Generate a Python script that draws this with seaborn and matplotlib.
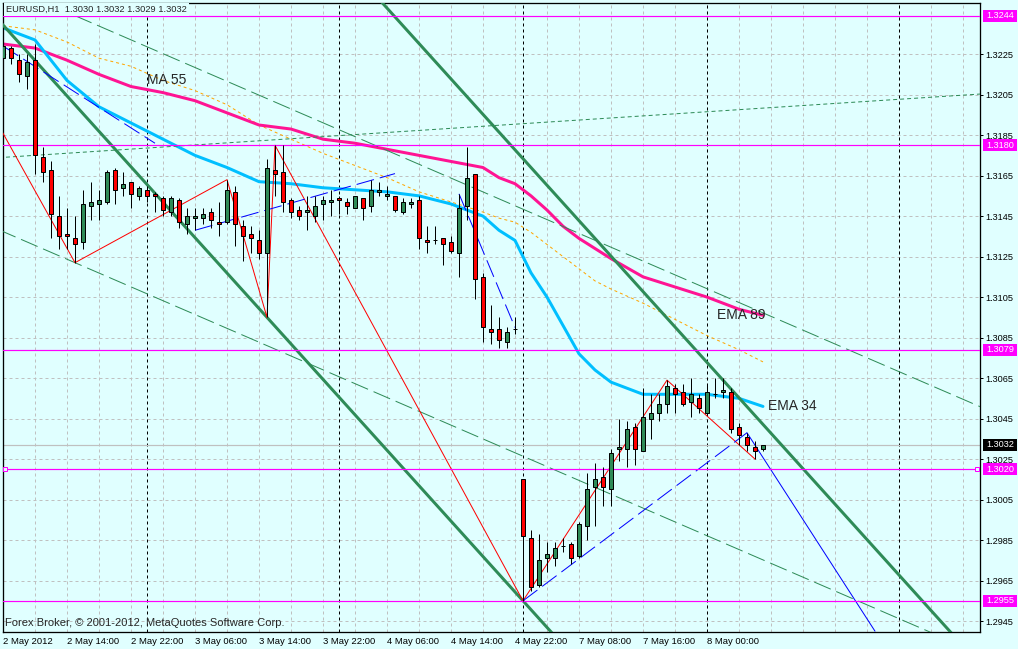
import numpy as np
import pandas as pd
import matplotlib
matplotlib.use("Agg")
import matplotlib.pyplot as plt
from matplotlib.patches import Rectangle
from matplotlib.transforms import blended_transform_factory
import seaborn as sns

# EURUSD H1 candles, bar 0 = 2 May 2012 06:00
opens = [1.3223, 1.3228, 1.3222, 1.3214, 1.3222, 1.3174, 1.3168, 1.3145, 1.3136, 1.3134,
         1.3132, 1.3150, 1.3151, 1.3152, 1.3168, 1.3159, 1.3162, 1.3155, 1.3158, 1.3156,
         1.3154, 1.3147, 1.3153, 1.3141, 1.3144, 1.3144, 1.3147, 1.3142, 1.3142, 1.3157,
         1.3140, 1.3136, 1.3133, 1.3127, 1.3168, 1.3167, 1.3153, 1.3148, 1.3147, 1.3145,
         1.3151, 1.3152, 1.3154, 1.3152, 1.3149, 1.3154, 1.3150, 1.3157, 1.3155, 1.3155,
         1.3147, 1.3151, 1.3153, 1.3133, 1.3133, 1.3134, 1.3132, 1.3127, 1.3150, 1.3166,
         1.3115, 1.3089, 1.3089, 1.3083, 1.3089, 1.3015, 1.2986, 1.2963, 1.2976, 1.2976,
         1.2982, 1.2983, 1.2977, 1.2992, 1.3011, 1.3016, 1.3010, 1.3030, 1.3030, 1.3041,
         1.3029, 1.3045, 1.3048, 1.3052, 1.3060, 1.3058, 1.3053, 1.3055, 1.3048, 1.3057,
         1.3058, 1.3058, 1.3041, 1.3036, 1.3031, 1.3030]
highs = [1.3233, 1.3229, 1.3225, 1.3225, 1.3230, 1.3179, 1.3172, 1.3155, 1.3149, 1.3145,
         1.3158, 1.3162, 1.3158, 1.3168, 1.3169, 1.3167, 1.3162, 1.3160, 1.3160, 1.3157,
         1.3155, 1.3155, 1.3154, 1.3149, 1.3149, 1.3149, 1.3149, 1.3152, 1.3163, 1.3160,
         1.3143, 1.3140, 1.3138, 1.3173, 1.3180, 1.3180, 1.3154, 1.3150, 1.3155, 1.3155,
         1.3155, 1.3158, 1.3155, 1.3154, 1.3155, 1.3154, 1.3163, 1.3162, 1.3160, 1.3155,
         1.3154, 1.3154, 1.3155, 1.3140, 1.3140, 1.3134, 1.3135, 1.3156, 1.3179, 1.3166,
         1.3117, 1.3101, 1.3095, 1.3090, 1.3095, 1.3015, 1.2990, 1.2988, 1.2984, 1.2984,
         1.2986, 1.2984, 1.2994, 1.3018, 1.3023, 1.3021, 1.3030, 1.3045, 1.3044, 1.3043,
         1.3060, 1.3057, 1.3057, 1.3064, 1.3062, 1.3062, 1.3065, 1.3057, 1.3062, 1.3065,
         1.3065, 1.3060, 1.3043, 1.3038, 1.3034, 1.3032]
lows = [1.3218, 1.3220, 1.3211, 1.3208, 1.3166, 1.3162, 1.3134, 1.3129, 1.3129, 1.3122,
        1.3129, 1.3143, 1.3143, 1.3151, 1.3151, 1.3155, 1.3149, 1.3153, 1.3152, 1.3147,
        1.3145, 1.3145, 1.3139, 1.3136, 1.3138, 1.3141, 1.3139, 1.3135, 1.3141, 1.3130,
        1.3123, 1.3127, 1.3124, 1.3095, 1.3155, 1.3147, 1.3144, 1.3143, 1.3138, 1.3142,
        1.3143, 1.3145, 1.3146, 1.3146, 1.3149, 1.3143, 1.3147, 1.3155, 1.3153, 1.3147,
        1.3146, 1.3149, 1.3129, 1.3127, 1.3131, 1.3121, 1.3127, 1.3115, 1.3143, 1.3104,
        1.3083, 1.3082, 1.3080, 1.3080, 1.3087, 1.2955, 1.2960, 1.2962, 1.2969, 1.2972,
        1.2979, 1.2973, 1.2976, 1.2985, 1.2992, 1.3002, 1.3002, 1.3024, 1.3021, 1.3022,
        1.3029, 1.3035, 1.3044, 1.3048, 1.3048, 1.3051, 1.3046, 1.3048, 1.3048, 1.3055,
        1.3055, 1.3038, 1.3032, 1.3029, 1.3025, 1.3029]
closes = [1.3229, 1.3223, 1.3215, 1.3221, 1.3175, 1.3167, 1.3146, 1.3135, 1.3135, 1.3131,
          1.3151, 1.3152, 1.3153, 1.3167, 1.3158, 1.3161, 1.3156, 1.3159, 1.3155, 1.3155,
          1.3148, 1.3154, 1.3142, 1.3145, 1.3145, 1.3146, 1.3143, 1.3141, 1.3158, 1.3141,
          1.3135, 1.3134, 1.3127, 1.3169, 1.3166, 1.3152, 1.3147, 1.3145, 1.3148, 1.3150,
          1.3153, 1.3153, 1.3153, 1.3150, 1.3155, 1.3149, 1.3158, 1.3158, 1.3156, 1.3148,
          1.3152, 1.3152, 1.3134, 1.3132, 1.3133, 1.3131, 1.3128, 1.3149, 1.3164, 1.3114,
          1.3090, 1.3088, 1.3084, 1.3088, 1.3089, 1.2987, 1.2962, 1.2975, 1.2978, 1.2981,
          1.2982, 1.2976, 1.2993, 1.3010, 1.3015, 1.3011, 1.3028, 1.3031, 1.3040, 1.3030,
          1.3046, 1.3048, 1.3052, 1.3061, 1.3057, 1.3052, 1.3057, 1.3050, 1.3058, 1.3057,
          1.3059, 1.3040, 1.3037, 1.3032, 1.3029, 1.3032]

# moving averages, read at these bars
ma_bars = [0, 4, 8, 12, 16, 20, 24, 28, 32, 36, 40, 44, 48, 52, 56, 60, 62, 64, 66, 68,
           70, 72, 74, 76, 80, 84, 88, 92, 95]
ema34 = [1.3238, 1.3232, 1.3212, 1.3199, 1.3191, 1.3183, 1.3175, 1.3169, 1.3162, 1.3161,
         1.3159, 1.3158, 1.3157, 1.3155, 1.3151, 1.3145, 1.3138, 1.3133, 1.3117, 1.3105,
         1.3091, 1.3077, 1.3069, 1.3063, 1.3057, 1.3057, 1.3057, 1.3055, 1.3051]
ema89 = [1.3230, 1.3228, 1.3222, 1.3215, 1.3209, 1.3206, 1.3202, 1.3196, 1.3190, 1.3188,
         1.3183, 1.3181, 1.3178, 1.3175, 1.3172, 1.3169, 1.3164, 1.3161, 1.3155, 1.3148,
         1.3140, 1.3134, 1.3129, 1.3124, 1.3115, 1.3110, 1.3105, 1.3099, 1.3096]
ma55 = [1.3239, 1.3237, 1.3231, 1.3223, 1.3219, 1.3212, 1.3207, 1.3200, 1.3190, 1.3183,
        1.3176, 1.3170, 1.3164, 1.3157, 1.3152, 1.3147, 1.3144, 1.3142, 1.3137, 1.3131,
        1.3125, 1.3119, 1.3113, 1.3109, 1.3102, 1.3094, 1.3086, 1.3079, 1.3073]

# drawn objects (bar, price)
channel_low = [(33, 1.3095), (65, 1.2955)]
channel_high_anchor = (90, 1.3064)
dash_low = [(9, 1.3122), (67, 1.3023)]
dash_high_start = (9, 1.3244)
dot_rising = [(0, 1.3174), (121, 1.3205)]
zz_bars = [-1, 9, 28, 33, 34, 65, 83, 94]
zz_prices = [1.3193, 1.3122, 1.3163, 1.3095, 1.3180, 1.2955, 1.3064, 1.3025]
blue_dashed = [[(0, 1.3229), (19, 1.3181)],
               [(24, 1.3138), (49, 1.3166)],
               [(57, 1.3156), (64, 1.3090)],
               [(65, 1.2955), (93, 1.3038)]]
blue_ray = [(93, 1.3038), (109, 1.2940)]
hlevels = [1.3244, 1.3180, 1.3079, 1.3020, 1.2955]
bid = 1.3032
level_marks = [0.25, 121.75]

sep_bars = [18, 42, 65, 88, 112]
price_ticks = [1.2945, 1.2965, 1.2985, 1.3005, 1.3025, 1.3045, 1.3065, 1.3085,
               1.3105, 1.3125, 1.3145, 1.3165, 1.3185, 1.3205, 1.3225]
tick_bars = [0, 8, 16, 24, 32, 40, 48, 56, 64, 72, 80, 88]
tick_labels = ['2 May 2012', '2 May 14:00', '2 May 22:00', '3 May 06:00', '3 May 14:00',
               '3 May 22:00', '4 May 06:00', '4 May 14:00', '4 May 22:00', '7 May 08:00',
               '7 May 16:00', '8 May 00:00']

sns.set_style('white')
plt.rcParams['font.family'] = ['Liberation Sans', 'DejaVu Sans']
plt.rcParams['lines.scale_dashes'] = False

BG = '#E0FFFF'
GREEN = '#2E8B57'
MAG = '#FF00FF'
PX = 0.72  # points per pixel at 100 dpi
W, H = 1018, 649
YSCALE = 20250.0  # pixels per price unit

fig = plt.figure(figsize=(W / 100, H / 100), dpi=100, facecolor=BG)
ax = fig.add_axes([2.5 / W, 17 / H, 977.5 / W, 629.5 / H])
ax.set_facecolor(BG)

# grid and day separators
for b in range(0, 124, 4):
    ax.axvline(b, color='#C0C0C0', lw=PX, ls=(0, (3 * PX, 3 * PX)), zorder=0.5)
for p in price_ticks:
    ax.axhline(p, color='#C0C0C0', lw=PX, ls=(0, (3 * PX, 3 * PX)), zorder=0.5)
for b in sep_bars:
    ax.axvline(b, color='black', lw=PX, ls=(0, (3 * PX, 3 * PX)), zorder=0.6)

# moving averages
ma = pd.DataFrame({'bar': ma_bars, 'ema34': ema34, 'ema89': ema89, 'ma55': ma55})
sns.lineplot(data=ma, x='bar', y='ma55', color='#FFA500', lw=PX, estimator=None,
             linestyle=(0, (3 * PX, 3 * PX)), ax=ax, zorder=2)
sns.lineplot(data=ma, x='bar', y='ema89', color='#FF1493', lw=3 * PX, estimator=None, ax=ax, zorder=2)
sns.lineplot(data=ma, x='bar', y='ema34', color='#00BFFF', lw=3 * PX, estimator=None, ax=ax, zorder=2)


def extend(p0, p1, x0=-2.0, x1=125.0):
    (a, pa), (b, pb) = p0, p1
    k = (pb - pa) / (b - a)
    return [x0, x1], [pa + k * (x0 - a), pa + k * (x1 - a)]


# channels / trend lines
k_ch = (channel_low[1][1] - channel_low[0][1]) / (channel_low[1][0] - channel_low[0][0])
xs, ys = extend(*channel_low)
ax.plot(xs, ys, color=GREEN, lw=3 * PX, zorder=3)
xs, ys = extend(channel_high_anchor, (channel_high_anchor[0] + 1, channel_high_anchor[1] + k_ch))
ax.plot(xs, ys, color=GREEN, lw=3 * PX, zorder=3)

k_d = (dash_low[1][1] - dash_low[0][1]) / (dash_low[1][0] - dash_low[0][0])
xs, ys = extend(*dash_low)
ax.plot(xs, ys, color=GREEN, lw=PX, ls=(0, (18 * PX, 6 * PX)), zorder=3)
xs, ys = extend(dash_high_start, (dash_high_start[0] + 1, dash_high_start[1] + k_d), x0=dash_high_start[0])
ax.plot(xs, ys, color=GREEN, lw=PX, ls=(0, (18 * PX, 6 * PX)), zorder=3)
xs, ys = extend(*dot_rising)
ax.plot(xs, ys, color=GREEN, lw=PX, ls=(0, (4 * PX, 3 * PX)), zorder=3)

ax.plot(zz_bars, zz_prices, color='red', lw=PX, zorder=3)
for seg in blue_dashed:
    ax.plot([seg[0][0], seg[1][0]], [seg[0][1], seg[1][1]], color='#0000FF', lw=PX,
            ls=(0, (18 * PX, 6 * PX)), zorder=3)
ax.plot([blue_ray[0][0], blue_ray[1][0]], [blue_ray[0][1], blue_ray[1][1]], color='#0000FF', lw=PX, zorder=3)

for p in hlevels:
    ax.axhline(p, color=MAG, lw=PX * 1.2, zorder=3)
ax.axhline(bid, color='#C0C0C0', lw=PX * 1.2, zorder=2.5)
ax.plot(level_marks, [1.3020] * 2, 's', ms=5 * PX, mfc=BG, mec=MAG, mew=PX, clip_on=False, zorder=3.5)

# candles
bars = np.arange(len(opens))
o, h, l, c = map(np.array, (opens, highs, lows, closes))
up = c >= o
ax.vlines(bars, l, h, color='black', lw=PX, zorder=5)
ax.bar(bars, np.abs(c - o), bottom=np.minimum(o, c), width=0.5,
       color=np.where(up, GREEN, 'red'), edgecolor='black', linewidth=PX, zorder=6)

# indicator labels
ax.text(18, 1.3212, 'MA 55', fontsize=10, va='center', ha='left', zorder=8)
ax.text(89.25, 1.3096, 'EMA 89', fontsize=10, va='center', ha='left', zorder=8)
ax.text(95.6, 1.3051, 'EMA 34', fontsize=10, va='center', ha='left', zorder=8)

ax.set_xlim(-0.0625, 122.125)
ax.set_ylim(1.29396, 1.32505)

# axes styling
for s in ax.spines.values():
    s.set_color('black')
    s.set_linewidth(PX * 1.3)
ax.set_xticks(tick_bars)
ax.set_xticklabels(tick_labels)
for lab in ax.get_xticklabels():
    lab.set_horizontalalignment('left')
ax.set_yticks(price_ticks)
ax.set_yticklabels([f'{p:.4f}' for p in price_ticks])
ax.yaxis.tick_right()
ax.tick_params(axis='x', length=4 * PX, width=PX, pad=1, labelsize=6.8, colors='black', direction='out')
ax.tick_params(axis='y', length=3 * PX, width=PX, pad=2.5 * PX, labelsize=6.6, colors='black',
               direction='out', left=False, right=True, labelleft=False, labelright=True)
ax.set_xlabel('')
ax.set_ylabel('')

# price boxes on the right scale
tr = blended_transform_factory(fig.transFigure, ax.transData)
for p, fc in [(v, MAG) for v in hlevels] + [(bid, 'black')]:
    ax.add_patch(Rectangle((983 / W, p - 6 / YSCALE), 34 / W, 12 / YSCALE, transform=tr,
                           facecolor=fc, edgecolor='none', clip_on=False, zorder=10))
    ax.text(986.5 / W, p, f'{p:.4f}', transform=tr, color='white', fontsize=6.6,
            va='center', ha='left', clip_on=False, zorder=11)
ax.set_xlim(-0.0625, 122.125)
ax.set_ylim(1.29396, 1.32505)

# title and copyright
fig.text(6.5 / W, 1 - 9.5 / H, 'EURUSD,H1  1.3030 1.3032 1.3029 1.3032', fontsize=6.7,
         va='center', ha='left', zorder=20,
         bbox=dict(facecolor=BG, edgecolor='none', pad=1.5))
fig.text(5 / W, 1 - 623.5 / H, 'Forex Broker, \u00a9 2001-2012, MetaQuotes Software Corp.',
         fontsize=8, va='center', ha='left', zorder=20)

fig.savefig('out.png', dpi=100, facecolor=BG)
